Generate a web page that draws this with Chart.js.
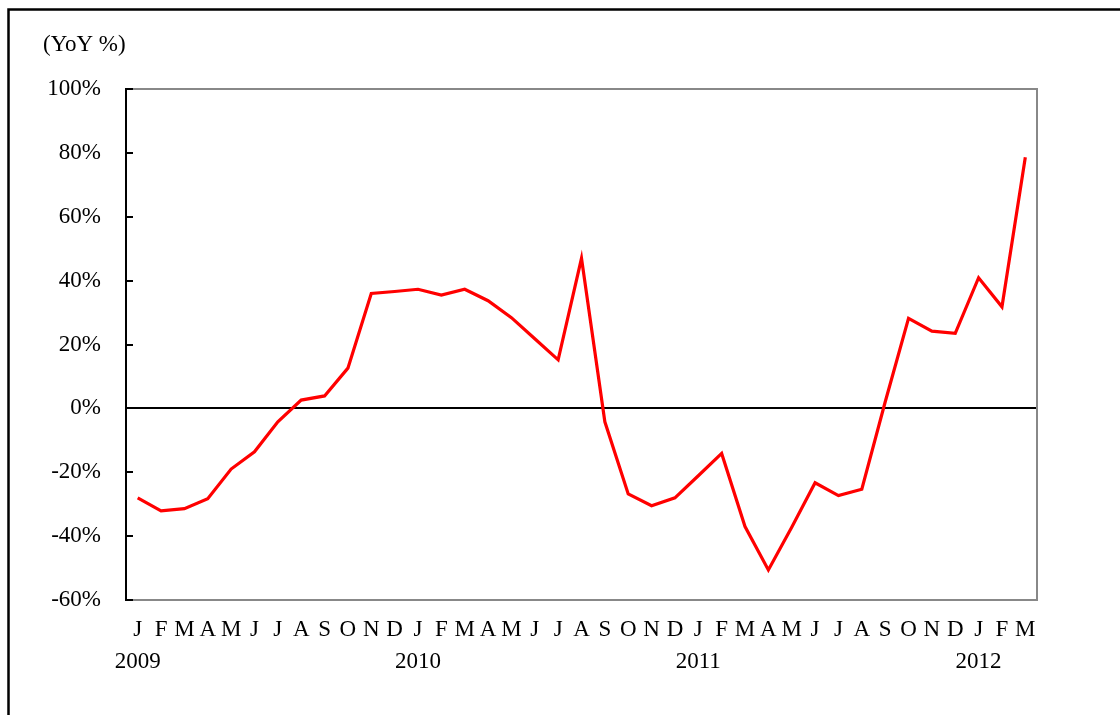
<!DOCTYPE html>
<html>
<head>
<meta charset="utf-8">
<script src="https://cdn.jsdelivr.net/npm/chart.js@4/dist/chart.umd.min.js"></script>
<style>
  html, body { margin: 0; padding: 0; background: #fff; }
  canvas { display: block; }
</style>
</head>
<body>
<canvas id="c" width="1120" height="715"></canvas>
<script>
// Monthly initials, Jan 2009 – Mar 2012
const months = ['J','F','M','A','M','J','J','A','S','O','N','D',
                'J','F','M','A','M','J','J','A','S','O','N','D',
                'J','F','M','A','M','J','J','A','S','O','N','D',
                'J','F','M'];
// Year shown under each January
const years = ['2009', '2010', '2011', '2012'];
// Year-on-year change, %
const yoy = [-28.0, -32.1, -31.4, -28.3, -19.0, -13.6, -4.2, 2.6, 3.9, 12.6, 36.0, 36.6,
             37.3, 35.5, 37.3, 33.7, 28.4, 21.8, 15.2, 47.0, -4.2, -26.8, -30.5, -28.0,
             -21.1, -14.1, -37.0, -50.6, -37.2, -23.3, -27.3, -25.3, 2.0, 28.2, 24.2, 23.5,
             40.9, 31.8, 78.6];
// Value axis
const yMin = -60, yMax = 100, yStep = 20;
const unitLabel = '(YoY %)';

let yearIdx = 0;
const labels = months.map((m, i) => (i % 12 === 0 ? [m, years[yearIdx++]] : m));

const FONT = { family: "'Liberation Serif', 'Times New Roman', serif", size: 23, lineHeight: 1.4 };

const framePlugin = {
  id: 'frame',
  beforeDraw(chart) {
    const ctx = chart.ctx;
    ctx.save();
    ctx.fillStyle = '#fff';
    ctx.fillRect(0, 0, chart.width, chart.height);
    ctx.strokeStyle = '#000';
    ctx.lineWidth = 2.5;
    ctx.beginPath();
    ctx.moveTo(8.5, chart.height);
    ctx.lineTo(8.5, 9.5);
    ctx.lineTo(chart.width, 9.5);
    ctx.stroke();
    ctx.restore();
  },
  afterDraw(chart) {
    const ctx = chart.ctx;
    const a = chart.chartArea;
    const y = chart.scales.y;
    ctx.save();
    // grey plot-area outline on top and right
    ctx.strokeStyle = '#888';
    ctx.lineWidth = 2;
    ctx.beginPath();
    ctx.moveTo(a.left, a.top);
    ctx.lineTo(a.right, a.top);
    ctx.lineTo(a.right, a.bottom);
    ctx.stroke();
    // inward tick marks on the value axis
    ctx.strokeStyle = '#000';
    ctx.lineWidth = 2;
    ctx.beginPath();
    y.ticks.forEach(t => {
      const py = Math.round(y.getPixelForValue(t.value));
      ctx.moveTo(a.left, py);
      ctx.lineTo(a.left + 7, py);
    });
    ctx.stroke();
    // unit caption
    ctx.fillStyle = '#000';
    ctx.font = FONT.size + 'px ' + FONT.family;
    ctx.textAlign = 'left';
    ctx.textBaseline = 'middle';
    ctx.fillText(unitLabel, 43, 45);
    ctx.restore();
  }
};

new Chart(document.getElementById('c'), {
  type: 'line',
  data: {
    labels: labels,
    datasets: [{
      data: yoy,
      borderColor: '#ff0000',
      borderWidth: 3.2,
      pointRadius: 0,
      tension: 0,
      fill: false
    }]
  },
  options: {
    responsive: false,
    animation: false,
    events: [],
    layout: { padding: { left: 0, top: 89, right: 83, bottom: 0 } },
    plugins: { legend: { display: false }, tooltip: { enabled: false } },
    scales: {
      x: {
        offset: true,
        grid: { display: false, drawTicks: false },
        border: { display: true, color: '#888', width: 2 },
        ticks: {
          color: '#000',
          font: FONT,
          padding: 14,
          maxRotation: 0,
          autoSkip: false
        },
        afterFit(s) { s.height = 115; }
      },
      y: {
        min: yMin,
        max: yMax,
        grid: {
          drawTicks: false,
          color: c => (c.tick && c.tick.value === 0 ? '#000' : 'rgba(0,0,0,0)'),
          lineWidth: 2
        },
        border: { display: true, color: '#000', width: 2 },
        ticks: {
          stepSize: yStep,
          color: '#000',
          font: FONT,
          padding: 25,
          callback: v => v + '%'
        },
        afterFit(s) { s.width = 126; }
      }
    }
  },
  plugins: [framePlugin]
});
</script>
</body>
</html>
